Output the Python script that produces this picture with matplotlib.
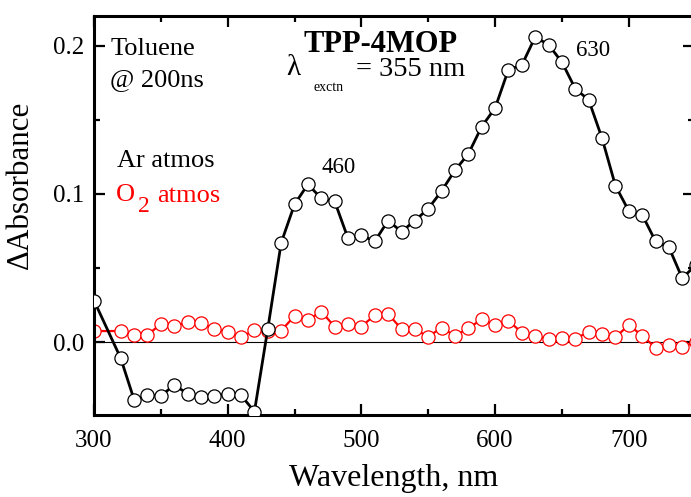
import numpy as np
import matplotlib
matplotlib.use('Agg')
import matplotlib.pyplot as plt
from matplotlib.ticker import MultipleLocator

plt.rcParams['font.family'] = ['Liberation Serif', 'DejaVu Serif']

# Ar atmosphere (black)
ar_wl = [300, 320, 330, 340, 350, 360, 370, 380, 390, 400, 410, 420, 430,
         440, 450, 460, 470, 480, 490, 500, 510, 520, 530, 540, 550, 560,
         570, 580, 590, 600, 610, 620, 630, 640, 650, 660, 670, 680, 690,
         700, 710, 720, 730, 740, 750]
ar_abs = [0.028, -0.011, -0.039, -0.036, -0.0365, -0.029, -0.035, -0.037,
          -0.0365, -0.035, -0.036, -0.047, 0.009,
          0.067, 0.093, 0.1065, 0.097, 0.095, 0.070, 0.072, 0.068, 0.082,
          0.0745, 0.082, 0.090, 0.102, 0.116, 0.127, 0.1455, 0.158, 0.184,
          0.187, 0.206, 0.2007, 0.189, 0.171, 0.1635, 0.1376, 0.1056, 0.0885,
          0.086, 0.068, 0.064, 0.043, 0.052]

# O2 atmosphere (red)
o2_wl = [300, 320, 330, 340, 350, 360, 370, 380, 390, 400, 410, 420, 430,
         440, 450, 460, 470, 480, 490, 500, 510, 520, 530, 540, 550, 560,
         570, 580, 590, 600, 610, 620, 630, 640, 650, 660, 670, 680, 690,
         700, 710, 720, 730, 740, 750]
o2_abs = [0.0074, 0.0074, 0.0047, 0.0047, 0.0122, 0.011, 0.0133, 0.013,
          0.0086, 0.007, 0.0031, 0.0081, 0.0074, 0.0077, 0.0176, 0.0149,
          0.0205, 0.0104, 0.0122, 0.0104, 0.0182, 0.0189, 0.0088, 0.0086,
          0.0036, 0.0097, 0.0041, 0.0093, 0.0153, 0.0115, 0.0144, 0.0063,
          0.0043, 0.0018, 0.0025, 0.002, 0.007, 0.0052, 0.0032, 0.0115,
          0.0043, -0.0038, -0.002, -0.0032, 0.0]

W, H = 691, 497
fig = plt.figure(figsize=(W / 100, H / 100), dpi=100)
ax = fig.add_axes([94 / W, 1 - 415 / H, 599.5 / W, 399.5 / H])


def px(x, y):
    return x / W, 1 - y / H


ax.axhline(0, color='black', lw=0.8, zorder=1)

ax.plot(o2_wl, o2_abs, color='red', lw=1.6, marker='o', ms=9.5,
        mfc='white', mec='red', mew=0.9, zorder=2)
ax.plot(ar_wl, ar_abs, color='black', lw=2.0, zorder=3)
ax.plot(ar_wl, ar_abs, ls='none', marker='o', ms=9.5,
        mfc='white', mec='black', mew=0.9, zorder=4)

ax.set_xlim(300, 748.4)
ax.set_ylim(-0.0493, 0.2205)
ax.xaxis.set_major_locator(MultipleLocator(100))
ax.xaxis.set_minor_locator(MultipleLocator(50))
ax.yaxis.set_major_locator(MultipleLocator(0.1))
ax.yaxis.set_minor_locator(MultipleLocator(0.05))
ax.tick_params(which='both', direction='in', top=True, right=True,
               labelsize=18, width=1.6)
ax.tick_params(axis='x', pad=11)
ax.tick_params(axis='y', pad=7)
ax.tick_params(which='major', length=8)
ax.tick_params(which='minor', length=4.5)
for s in ax.spines.values():
    s.set_linewidth(2.2)

ax.set_xlabel('Wavelength, nm', fontsize=23)
ax.set_ylabel('\u0394Absorbance', fontsize=22.4)
ax.xaxis.set_label_coords(0.5, -0.123)
ax.yaxis.set_label_coords(-0.0984, 0.575)

fig.text(*px(111, 55), 'Toluene', fontsize=19, va='baseline')
fig.text(*px(110, 86), '@ 200ns', fontsize=19, va='baseline')
fig.text(*px(117, 167), 'Ar atmos', fontsize=19, va='baseline')
fig.text(*px(116, 201), 'O', fontsize=19, va='baseline', color='red')
fig.text(*px(138, 212), '2', fontsize=17, va='baseline', color='red')
fig.text(*px(157, 202), 'atmos', fontsize=19, va='baseline', color='red')
fig.text(*px(381, 52), 'TPP-4MOP', fontsize=22, fontweight='bold',
         va='baseline', ha='center')
fig.text(*px(286, 75), '\u03bb', fontsize=21, va='baseline')
fig.text(*px(313, 91), 'exctn', fontsize=10, va='baseline')
fig.text(*px(356, 76), '= 355 nm', fontsize=20.5, va='baseline')
fig.text(*px(321, 173), '460', fontsize=16.5, va='baseline')
fig.text(*px(576, 56), '630', fontsize=16.5, va='baseline')

fig.savefig('out.png', dpi=100)
